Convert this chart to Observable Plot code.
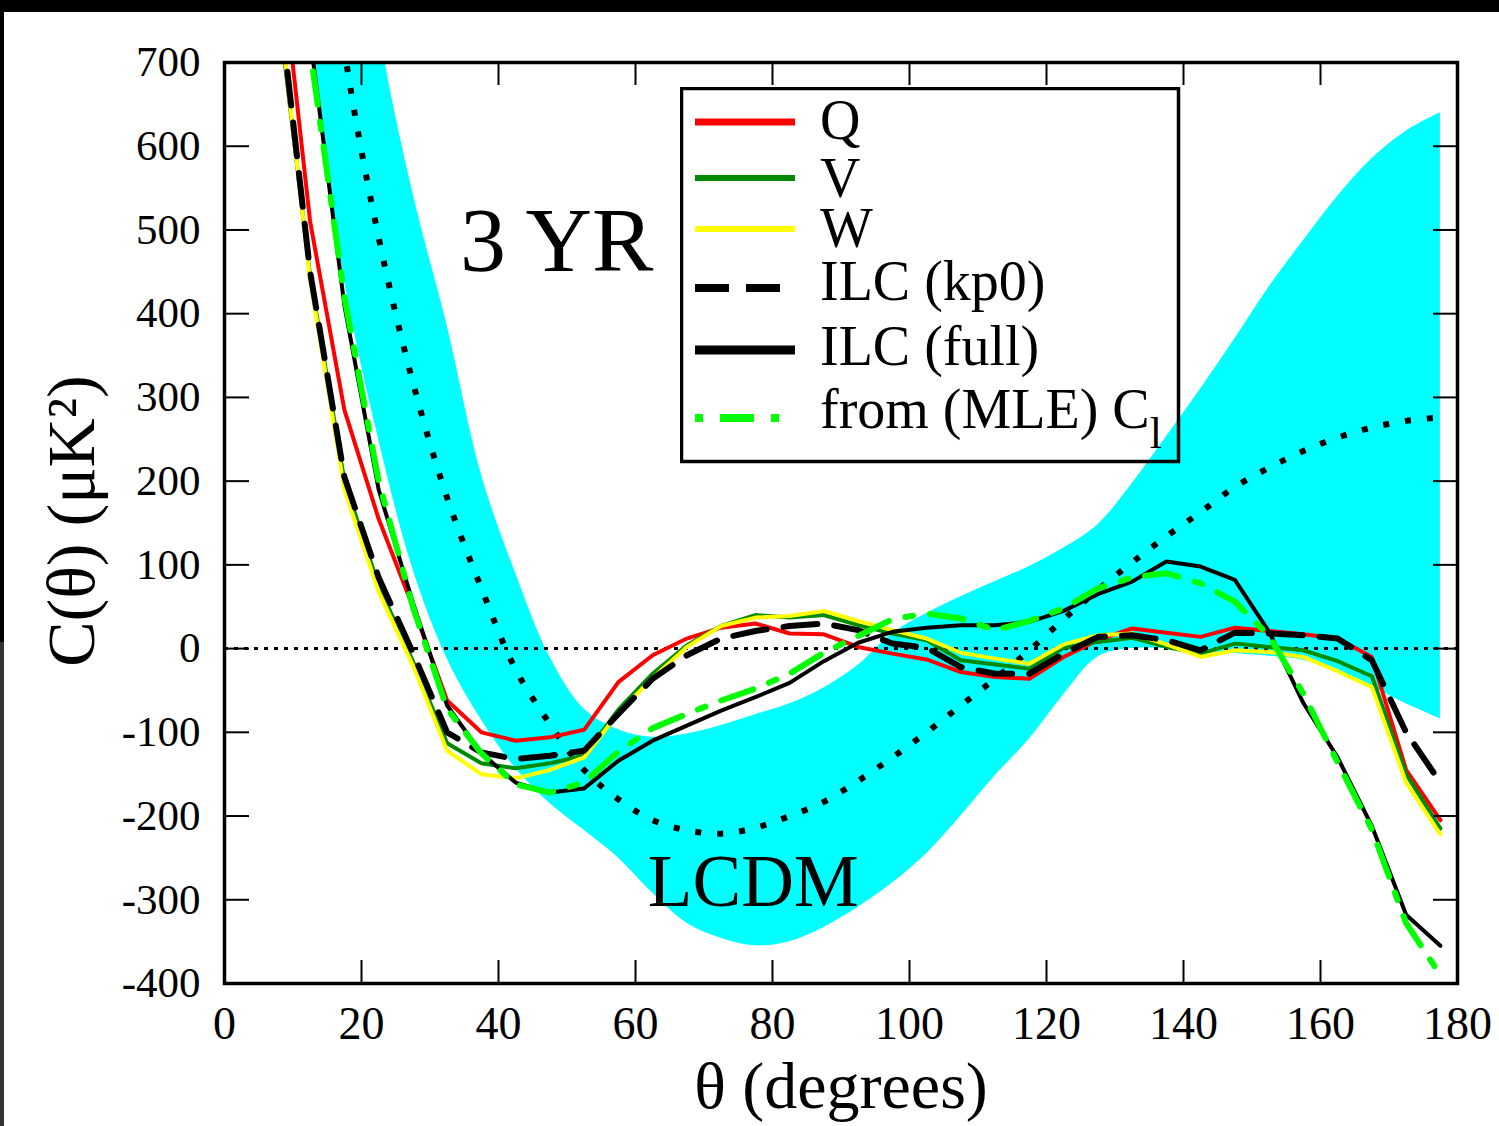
<!DOCTYPE html>
<html><head><meta charset="utf-8">
<script src="https://cdn.jsdelivr.net/npm/d3@7"></script>
<script src="https://cdn.jsdelivr.net/npm/@observablehq/plot@0.6"></script>
<style>
body{margin:0;background:#fff;}
#wrap{position:relative;width:1499px;height:1126px;overflow:hidden;font-family:"Liberation Serif",serif;}
.deco{position:absolute;}
#legend{position:absolute;left:680px;top:87px;}
</style></head><body><div id="wrap"></div>
<script>
// angular separation (degrees)
const theta = [7.5,12.5,17.5,22.5,27.5,32.5,37.5,42.5,47.5,52.5,57.5,62.5,67.5,72.5,77.5,82.5,87.5,92.5,97.5,102.5,107.5,112.5,117.5,122.5,127.5,132.5,137.5,142.5,147.5,152.5,157.5,162.5,167.5,172.5,177.5];
// C(theta) in uK^2
const Q    = [880,510,285,155,50,-62,-100,-110,-106,-97,-40,-8,12,25,30,18,17,2,-6,-13,-28,-34,-36,-10,10,24,19,14,25,21,17,12,-10,-145,-205];
const V    = [790,445,200,75,-15,-113,-137,-143,-137,-128,-73,-30,4,27,40,37,40,28,18,10,-14,-19,-24,1,8,13,2,-6,6,2,-2,-15,-33,-150,-215];
const W    = [800,441,190,68,-20,-122,-150,-155,-145,-130,-77,-35,2,27,37,39,45,33,22,12,-5,-12,-18,5,16,18,5,-10,-2,-4,-10,-27,-46,-160,-222];
const kp0  = [810,450,205,85,-5,-100,-124,-132,-128,-122,-78,-36,-8,12,21,27,30,22,6,1,-22,-30,-30,-6,14,16,10,-2,19,18,16,12,-14,-100,-160];
const full = [1100,730,410,190,55,-68,-125,-160,-172,-167,-134,-110,-92,-74,-58,-41,-15,7,20,25,28,28,32,45,65,80,104,98,82,20,-65,-130,-212,-318,-355];
const MLE  = [1080,715,420,200,50,-72,-125,-162,-172,-160,-123,-95,-78,-62,-48,-30,-5,15,35,42,36,22,33,48,72,85,90,78,56,15,-54,-136,-216,-328,-390];
// LCDM expectation and its band
const lcdmMean = [1400,1050,715,491,318,180,72,-25,-90,-145,-180,-205,-217,-221,-214,-200,-183,-158,-130,-100,-68,-36,-2,35,70,103,134,163,193,216,236,252,264,272,276];
const lcdmLo   = [1100,725,440,250,95,-12,-85,-143,-185,-217,-250,-292,-328,-346,-355,-350,-333,-309,-280,-245,-200,-152,-108,-55,-10,0,0,-3,-6,-9,-14,-28,-46,-66,-84];
const lcdmHi   = [1700,1400,1080,745,544,386,208,90,-10,-72,-97,-106,-102,-92,-79,-66,-47,-20,18,42,62,80,98,120,148,197,253,310,370,432,487,540,585,618,640];

const xTicks = [0,20,40,60,80,100,120,140,160,180];
const yTicks = [-400,-300,-200,-100,0,100,200,300,400,500,600,700];

const series = [
  {key:"Q",    label:"Q",          color:"#ff0000", width:4, dash:null,          lw:7},
  {key:"V",    label:"V",          color:"#008a00", width:4, dash:null,          lw:6},
  {key:"W",    label:"W",          color:"#ffff00", width:4, dash:null,          lw:6},
  {key:"kp0",  label:"ILC (kp0)",  color:"#000000", width:6, dash:"34,17",       lw:8},
  {key:"full", label:"ILC (full)", color:"#000000", width:4, dash:null,          lw:9},
  {key:"MLE",  label:"from (MLE) C", sub:"l", color:"#00ff00", width:6, dash:"8,17,34,17", lw:8}
];
const annotations = [
  {label:"3 YR", x:48.5, y:486, size:92},
  {label:"LCDM", x:77.2, y:-279, size:73}
];

const cols = {Q, V, W, kp0, full, MLE, lcdmMean, lcdmLo, lcdmHi};
const rows = theta.map((t, i) => {
  const r = {theta: t};
  for (const k in cols) r[k] = cols[k][i];
  return r;
});

const fmt = d => String(d);
const marks = [
  Plot.areaY(rows, {x:"theta", y1:"lcdmLo", y2:"lcdmHi", fill:"#00ffff", curve:"catmull-rom", clip:true}),
  Plot.ruleY([0], {stroke:"black", strokeWidth:3, strokeDasharray:"4,6"}),
  Plot.line(rows, {x:"theta", y:"lcdmMean", stroke:"black", strokeWidth:6, strokeDasharray:"6,16", strokeLinecap:"butt", curve:"catmull-rom", clip:true}),
  ...series.map(s => Plot.line(rows, {x:"theta", y:s.key, stroke:s.color, strokeWidth:s.width, strokeDasharray:s.dash, strokeLinejoin:"round", clip:true})),
  Plot.text([annotations[0]], {x:"x", y:"y", text:"label", fontSize:annotations[0].size, fill:"black"}),
  Plot.text([annotations[1]], {x:"x", y:"y", text:"label", fontSize:annotations[1].size, fill:"black"}),
  Plot.axisX({anchor:"bottom", ticks:xTicks, tickSize:-23, tickFormat:()=>"", label:null, strokeWidth:2}),
  Plot.axisX({anchor:"top", ticks:xTicks, tickSize:-22, tickFormat:()=>"", label:null, strokeWidth:2}),
  Plot.axisX({anchor:"bottom", ticks:xTicks, tickSize:0, tickPadding:23, tickFormat:fmt, fontSize:46, label:null}),
  Plot.axisY({anchor:"left", ticks:yTicks, tickSize:-25, tickFormat:()=>"", label:null, strokeWidth:2}),
  Plot.axisY({anchor:"right", ticks:yTicks, tickSize:-25, tickFormat:()=>"", label:null, strokeWidth:2}),
  Plot.axisY({anchor:"left", ticks:yTicks, tickSize:0, tickPadding:24, tickFormat:fmt, fontSize:43, label:null}),
  Plot.text(["θ (degrees)"], {frameAnchor:"bottom", textAnchor:"middle", lineAnchor:"middle", dy:103, fontSize:66, fill:"black"}),
  Plot.text(["C(θ) (μK²)"], {frameAnchor:"left", textAnchor:"middle", lineAnchor:"middle", rotate:-90, dx:-152, dy:-2, fontSize:68, fill:"black"}),
  Plot.frame({stroke:"black", strokeWidth:3.5})
];

const chart = Plot.plot({
  width:1499, height:1126,
  marginLeft:224, marginRight:42, marginTop:62, marginBottom:143,
  x:{domain:[0,180]},
  y:{domain:[-400,700]},
  style:{fontFamily:"'Liberation Serif', serif", background:"white", color:"black"},
  marks
});
const wrap = document.getElementById("wrap");
wrap.appendChild(chart);

// legend box drawn inside the plot area
const NS = "http://www.w3.org/2000/svg";
const lg = document.createElementNS(NS, "svg");
lg.setAttribute("id","legend");
lg.setAttribute("width", 502); lg.setAttribute("height", 378);
const lineY = [35, 91, 142, 201, 263, 331];
const textY = [52, 110, 160, 213, 278, 341];
const box = document.createElementNS(NS, "rect");
box.setAttribute("x",1.5); box.setAttribute("y",1.5); box.setAttribute("width",497); box.setAttribute("height",373);
box.setAttribute("fill","none"); box.setAttribute("stroke","black"); box.setAttribute("stroke-width",3.5);
lg.appendChild(box);
series.forEach((s, i) => {
  const l = document.createElementNS(NS, "line");
  l.setAttribute("x1",15); l.setAttribute("x2",115);
  l.setAttribute("y1",lineY[i]); l.setAttribute("y2",lineY[i]);
  l.setAttribute("stroke", s.color); l.setAttribute("stroke-width", s.lw);
  if (s.dash) l.setAttribute("stroke-dasharray", s.dash);
  lg.appendChild(l);
  const t = document.createElementNS(NS, "text");
  t.setAttribute("x",140); t.setAttribute("y",textY[i]);
  t.setAttribute("font-family","'Liberation Serif', serif"); t.setAttribute("font-size",56);
  t.textContent = s.label;
  if (s.sub) {
    const ts = document.createElementNS(NS, "tspan");
    ts.setAttribute("dy", 20); ts.setAttribute("font-size", 44);
    ts.textContent = s.sub;
    t.appendChild(ts);
  }
  lg.appendChild(t);
});
wrap.appendChild(lg);

// dark page borders of the scanned figure
[[0,0,1499,12,"#000"],[0,0,4,642,"#000"],[0,642,4,484,"#333"]].forEach(([x,y,w,h,c]) => {
  const d = document.createElement("div");
  d.className = "deco";
  Object.assign(d.style, {left:x+"px", top:y+"px", width:w+"px", height:h+"px", background:c});
  wrap.appendChild(d);
});
</script></body></html>
